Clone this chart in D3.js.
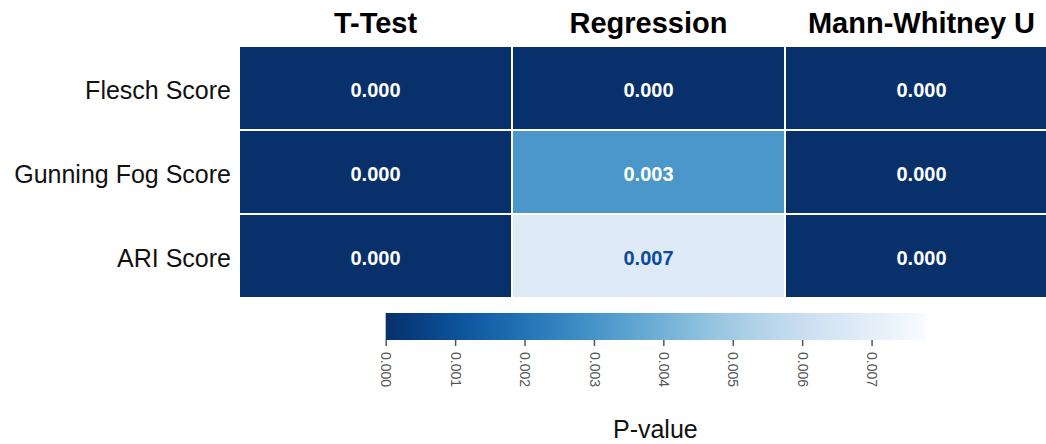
<!DOCTYPE html>
<html>
<head>
<meta charset="utf-8">
<script src="https://cdn.jsdelivr.net/npm/d3@7"></script>
<style>
	body { margin: 0; background: #fff; overflow: hidden; }
	svg { display: block; font-family: 'Liberation Sans', Arial, sans-serif; }
</style>
</head>
<body>
<div id="chart"></div>
<script>
// data
const tests = ['T-Test', 'Regression', 'Mann-Whitney U'];
const metrics = ['Flesch Score', 'Gunning Fog Score', 'ARI Score'];
// p-values, row per metric, column per test
const pTTest = [0.0000, 0.0000, 0.0000];
const pRegression = [0.0000, 0.0031, 0.0068];
const pMannWhitney = [0.0000, 0.0000, 0.0000];
const colorbarTicks = [0, 0.001, 0.002, 0.003, 0.004, 0.005, 0.006, 0.007];
const colorMax = 0.00777;

const width = 1046, height = 444;

const svg = d3.select('#chart').append('svg')
	.attr('width', width)
	.attr('height', height);

//
// scales
//
const x = d3.scaleBand().domain(tests).range([240, 1059]);
const y = d3.scaleBand().domain(metrics).range([47, 299]);
const color = d3.scaleSequential(t => d3.interpolateBlues(1 - t)).domain([0, colorMax]);

const cells = [];
const cols = [pTTest, pRegression, pMannWhitney];
tests.forEach((t, i) => {
	metrics.forEach((m, j) => {
		cells.push({ test: t, metric: m, value: cols[i][j] });
	});
});

//
// cells
//
svg.selectAll('rect.cell')
	.data(cells)
	.enter()
	.append('rect')
	.attr('class', 'cell')
	.attr('x', d => x(d.test))
	.attr('y', d => y(d.metric))
	.attr('width', x.bandwidth() - 2)
	.attr('height', y.bandwidth() - 2)
	.style('fill', d => color(d.value));

svg.selectAll('text.val')
	.data(cells)
	.enter()
	.append('text')
	.attr('class', 'val')
	.attr('x', d => x(d.test) + (x.bandwidth() - 2) / 2)
	.attr('y', d => y(d.metric) + (y.bandwidth() - 2) / 2 + 8.5)
	.attr('text-anchor', 'middle')
	.style('font-size', '20px')
	.style('font-weight', 'bold')
	.style('fill', d => d.value > colorMax * 0.6 ? '#0b4a9e' : '#fff')
	.text(d => d.value.toFixed(3));

//
// column headers
//
svg.selectAll('text.head')
	.data(tests)
	.enter()
	.append('text')
	.attr('class', 'head')
	.attr('x', d => x(d) + (x.bandwidth() - 2) / 2)
	.attr('y', 33)
	.attr('text-anchor', 'middle')
	.style('font-size', '29px')
	.style('font-weight', 'bold')
	.style('fill', '#000')
	.text(d => d);

//
// row labels
//
svg.selectAll('text.row')
	.data(metrics)
	.enter()
	.append('text')
	.attr('class', 'row')
	.attr('x', 231)
	.attr('y', d => y(d) + (y.bandwidth() - 2) / 2 + 11)
	.attr('text-anchor', 'end')
	.style('font-size', '25px')
	.style('fill', '#111')
	.text(d => d);

//
// colorbar
//
const cb = d3.scaleLinear().domain([0, colorMax]).range([385.7, 925]);

const defs = svg.append('defs');
const grad = defs.append('linearGradient').attr('id', 'cbgrad');
d3.range(0, 1.0001, 0.05).forEach(t => {
	grad.append('stop')
		.attr('offset', (t * 100) + '%')
		.attr('stop-color', color(t * colorMax));
});

svg.append('rect')
	.attr('x', cb.range()[0])
	.attr('y', 313)
	.attr('width', cb.range()[1] - cb.range()[0])
	.attr('height', 27)
	.style('fill', 'url(#cbgrad)');

const axis = svg.append('g')
	.attr('transform', 'translate(0,340)')
	.call(d3.axisBottom(cb).tickValues(colorbarTicks).tickFormat(d3.format('.3f')).tickSize(6));

axis.select('.domain').remove();
axis.selectAll('.tick line').attr('stroke', '#555').attr('stroke-width', 1.5);
axis.selectAll('.tick text')
	.attr('y', 0)
	.attr('x', 12)
	.attr('dy', '0.35em')
	.attr('transform', 'rotate(90)')
	.style('text-anchor', 'start')
	.style('font-size', '14px')
	.style('font-family', "'Liberation Sans', Arial, sans-serif")
	.style('fill', '#555');

svg.append('text')
	.attr('x', (cb.range()[0] + cb.range()[1]) / 2)
	.attr('y', 438)
	.attr('text-anchor', 'middle')
	.style('font-size', '25px')
	.style('fill', '#111')
	.text('P-value');
</script>
</body>
</html>
